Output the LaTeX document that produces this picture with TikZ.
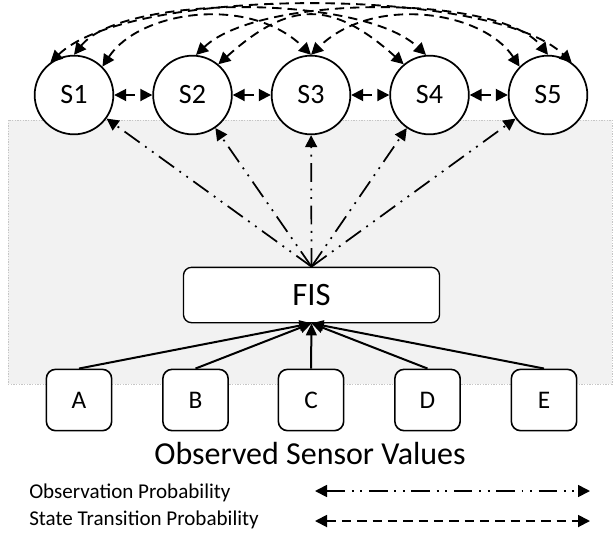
\documentclass[tikz,border=0pt]{standalone}
\usepackage{fontspec}
\setmainfont{Carlito}
\usetikzlibrary{arrows.meta}
\tikzset{
  state/.style={circle, draw, fill=white, line width=1.3pt, minimum size=59pt, inner sep=0pt, font=\fontsize{21}{24}\selectfont},
  fisbox/.style={rectangle, rounded corners=6pt, draw, fill=white, line width=1pt, minimum width=192pt, minimum height=41.5pt, inner sep=0pt, font=\fontsize{24.5}{28}\selectfont},
  sensor/.style={rectangle, rounded corners=7pt, draw, fill=white, line width=1.2pt, minimum width=49pt, minimum height=46pt, inner sep=0pt, font=\fontsize{19}{22}\selectfont},
  trans/.style={line width=1.4pt, dash pattern=on 7pt off 4.5pt, {Triangle[length=9pt,width=9pt]}-{Triangle[length=9pt,width=9pt]}},
  obs/.style={line width=1.3pt, dash pattern=on 14pt off 5pt on 1.4pt off 5pt on 1.4pt off 5pt},
  sens/.style={line width=1.5pt, -{Triangle[length=9pt,width=8pt]}},
  legtext/.style={anchor=base west, inner sep=0pt, font=\fontsize{15.8}{18}\selectfont},
}
\begin{document}
\begin{tikzpicture}[x=0.75pt,y=-0.75pt]
\useasboundingbox (0,0) rectangle (613,536);
% background panel
\path[draw=gray!45, line width=0.5pt, dash pattern=on 1pt off 1pt, fill=gray!10] (8,120) rectangle (612,384);
% states
\node[state] (S1) at (74,95) {S1};
\node[state] (S2) at (192.5,95) {S2};
\node[state] (S3) at (311,95) {S3};
\node[state] (S4) at (429.5,95) {S4};
\node[state] (S5) at (548,95) {S5};
% FIS
\node[fisbox] (FIS) at (311.5,295) {FIS};
% sensors
\node[sensor] (A) at (79,400) {A};
\node[sensor] (B) at (195.5,400) {B};
\node[sensor] (C) at (311,400) {C};
\node[sensor] (D) at (427.5,400) {D};
\node[sensor] (E) at (544,400) {E};
% adjacent transitions
\draw[trans] (S1) -- (S2);
\draw[trans] (S2) -- (S3);
\draw[trans] (S3) -- (S4);
\draw[trans] (S4) -- (S5);
% long transitions
\draw[trans] (S1.126) .. controls (130,-14) and (492,-14) .. (S5.54);
\draw[trans] (S1.90) .. controls (122,-6) and (362,-6) .. (S4.95);
\draw[trans] (S2.85) .. controls (260,-6) and (500,-6) .. (S5.90);
\draw[trans] (S1.45) .. controls (140,10) and (250,-5) .. (S3.90);
\draw[trans] (S5.135) .. controls (482,10) and (372,-5) .. (S3.90);
\draw[trans] (S2.50) .. controls (290,0) and (332,0) .. (S4.130);
% observation probabilities
\foreach \s in {S1,S2,S3,S4,S5}
  \draw[obs, -{Triangle[length=9pt,width=9pt]}] (FIS.north) -- (\s);
% sensor inputs
\foreach \s in {A,B,C,D,E}
  \draw[sens] (\s.north) -- (FIS.south);
% caption
\node[anchor=base, inner sep=0pt, font=\fontsize{24}{28}\selectfont] (cap) at (310,464) {Observed Sensor Values};
% legend
\node[legtext] (lg1) at (29,498) {Observation Probability};
\node[legtext] (lg2) at (29,525) {State Transition Probability};
\coordinate (l1a) at (315,491);
\coordinate (l1b) at (590,491);
\coordinate (l2a) at (315,521);
\coordinate (l2b) at (590,521);
\draw[obs, {Triangle[length=9pt,width=9pt]}-{Triangle[length=9pt,width=9pt]}] (l1a) -- (l1b);
\draw[trans] (l2a) -- (l2b);
\end{tikzpicture}
\end{document}
